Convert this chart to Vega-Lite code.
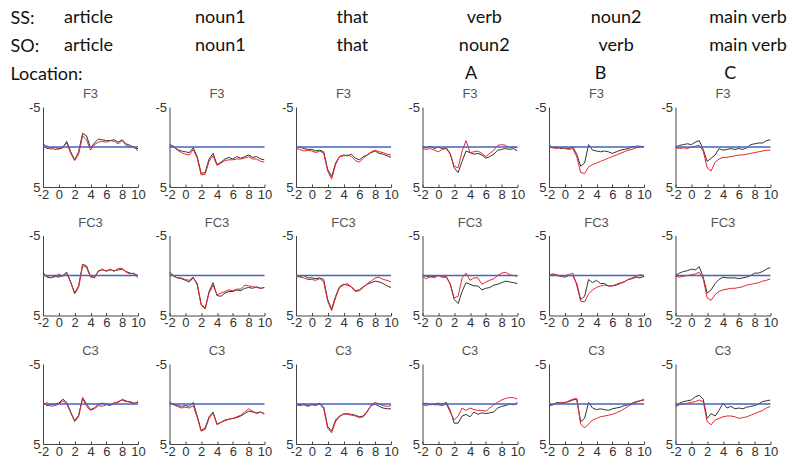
{
"$schema":"https://vega.github.io/schema/vega-lite/v6.json",
"padding":{"left":10,"top":4,"right":0,"bottom":0},
"config":{"view":{"stroke":null},"font":"Liberation Sans"},
"spacing":0,
"vconcat":[
{
"width":740,"height":84,
"data":{"values":[
{"k":"w","r":"SS:","c":1,"w":"article"},{"k":"w","r":"SS:","c":2,"w":"noun1"},{"k":"w","r":"SS:","c":3,"w":"that"},{"k":"w","r":"SS:","c":4,"w":"verb"},{"k":"w","r":"SS:","c":5,"w":"noun2"},{"k":"w","r":"SS:","c":6,"w":"main verb"},
{"k":"w","r":"SO:","c":1,"w":"article"},{"k":"w","r":"SO:","c":2,"w":"noun1"},{"k":"w","r":"SO:","c":3,"w":"that"},{"k":"w","r":"SO:","c":4,"w":"noun2"},{"k":"w","r":"SO:","c":5,"w":"verb"},{"k":"w","r":"SO:","c":6,"w":"main verb"},
{"k":"l","r":"Location:","c":4,"w":"A"},{"k":"l","r":"Location:","c":5,"w":"B"},{"k":"l","r":"Location:","c":6,"w":"C"}
]},
"layer":[
{"transform":[{"filter":"datum.k=='w'"}],
"mark":{"type":"text","font":"Lato","fontSize":18,"color":"#111"},
"encoding":{
"x":{"field":"c","type":"quantitative","scale":{"domain":[0.655,6.265],"zero":false,"nice":false},"axis":null},
"y":{"field":"r","type":"ordinal","scale":{"type":"point","padding":0.5,"domain":["SS:","SO:","Location:"]},"axis":{"title":null,"domain":false,"ticks":false,"labelFont":"Lato","labelFontSize":18,"labelColor":"#111","labelAlign":"left","labelPadding":33,"labelLimit":0}},
"text":{"field":"w"}}},
{"transform":[{"filter":"datum.k=='l'"}],
"mark":{"type":"text","font":"Lato","fontSize":18,"color":"#111"},
"encoding":{
"x":{"field":"c","type":"quantitative","scale":{"domain":[0.694,6.408],"zero":false,"nice":false},"axis":null},
"y":{"field":"r","type":"ordinal"},
"text":{"field":"w"}}}
],
"resolve":{"scale":{"x":"independent"}}
},
{
"data":{"values":[
{"p":1,"t":-2,"k":-0.5,"r":0.1},{"p":1,"t":-1.5,"k":0.2,"r":-0.2},{"p":1,"t":-1,"k":0.1,"r":0.3},{"p":1,"t":-0.5,"k":0.3,"r":0.0},{"p":1,"t":0,"k":0.2,"r":0.3},{"p":1,"t":0.5,"k":0.1,"r":0.0},{"p":1,"t":1,"k":-0.7,"r":-0.5},{"p":1,"t":1.5,"k":0.6,"r":0.8},{"p":1,"t":2,"k":1.6,"r":1.7},{"p":1,"t":2.5,"k":0.6,"r":0.9},{"p":1,"t":3,"k":-1.7,"r":-1.4},{"p":1,"t":3.5,"k":-1.4,"r":-0.9},{"p":1,"t":4,"k":0.1,"r":0.4},{"p":1,"t":4.5,"k":-0.5,"r":-0.3},{"p":1,"t":5,"k":-1.0,"r":-0.6},{"p":1,"t":5.5,"k":-0.9,"r":-0.7},{"p":1,"t":6,"k":-0.8,"r":-0.6},{"p":1,"t":6.5,"k":-0.8,"r":-0.8},{"p":1,"t":7,"k":-0.9,"r":-0.7},{"p":1,"t":7.5,"k":-0.6,"r":-0.4},{"p":1,"t":8,"k":-0.9,"r":-0.8},{"p":1,"t":8.5,"k":-0.4,"r":-0.2},{"p":1,"t":9,"k":-0.2,"r":0.0},{"p":1,"t":9.5,"k":0.1,"r":0.0},{"p":1,"t":10,"k":0.2,"r":0.5},
{"p":2,"t":-2,"k":-0.3,"r":-0.3},{"p":2,"t":-1.5,"k":-0.1,"r":0.0},{"p":2,"t":-1,"k":0.3,"r":0.4},{"p":2,"t":-0.5,"k":0.5,"r":0.7},{"p":2,"t":0,"k":0.6,"r":0.9},{"p":2,"t":0.5,"k":0.7,"r":1.0},{"p":2,"t":1,"k":0.1,"r":0.3},{"p":2,"t":1.5,"k":1.2,"r":1.4},{"p":2,"t":2,"k":3.3,"r":3.5},{"p":2,"t":2.5,"k":3.2,"r":3.4},{"p":2,"t":3,"k":1.5,"r":1.8},{"p":2,"t":3.5,"k":0.8,"r":1.1},{"p":2,"t":4,"k":2.2,"r":2.3},{"p":2,"t":4.5,"k":1.9,"r":2.0},{"p":2,"t":5,"k":1.5,"r":1.7},{"p":2,"t":5.5,"k":1.3,"r":1.6},{"p":2,"t":6,"k":1.5,"r":1.6},{"p":2,"t":6.5,"k":1.2,"r":1.5},{"p":2,"t":7,"k":1.4,"r":1.5},{"p":2,"t":7.5,"k":1.2,"r":1.4},{"p":2,"t":8,"k":1.0,"r":1.2},{"p":2,"t":8.5,"k":1.3,"r":1.5},{"p":2,"t":9,"k":1.2,"r":1.5},{"p":2,"t":9.5,"k":1.5,"r":1.8},{"p":2,"t":10,"k":1.6,"r":1.9},
{"p":3,"t":-2,"k":0.0,"r":0.2},{"p":3,"t":-1.5,"k":0.0,"r":0.3},{"p":3,"t":-1,"k":0.2,"r":0.5},{"p":3,"t":-0.5,"k":0.3,"r":0.4},{"p":3,"t":0,"k":0.3,"r":0.5},{"p":3,"t":0.5,"k":0.5,"r":0.7},{"p":3,"t":1,"k":0.4,"r":0.5},{"p":3,"t":1.5,"k":0.6,"r":0.8},{"p":3,"t":2,"k":2.8,"r":3.0},{"p":3,"t":2.5,"k":3.7,"r":4.0},{"p":3,"t":3,"k":2.0,"r":2.2},{"p":3,"t":3.5,"k":1.2,"r":1.2},{"p":3,"t":4,"k":1.0,"r":1.1},{"p":3,"t":4.5,"k":1.1,"r":1.0},{"p":3,"t":5,"k":0.9,"r":1.2},{"p":3,"t":5.5,"k":1.4,"r":1.7},{"p":3,"t":6,"k":1.6,"r":1.9},{"p":3,"t":6.5,"k":1.2,"r":1.4},{"p":3,"t":7,"k":1.0,"r":1.0},{"p":3,"t":7.5,"k":0.7,"r":0.6},{"p":3,"t":8,"k":0.5,"r":0.4},{"p":3,"t":8.5,"k":0.8,"r":0.6},{"p":3,"t":9,"k":0.9,"r":0.7},{"p":3,"t":9.5,"k":1.1,"r":0.9},{"p":3,"t":10,"k":1.3,"r":1.0},
{"p":4,"t":-2,"k":0.0,"r":0.2},{"p":4,"t":-1.5,"k":0.1,"r":0.3},{"p":4,"t":-1,"k":-0.1,"r":0.2},{"p":4,"t":-0.5,"k":0.2,"r":0.4},{"p":4,"t":0,"k":0.0,"r":0.6},{"p":4,"t":0.5,"k":0.2,"r":0.3},{"p":4,"t":1,"k":0.1,"r":0.2},{"p":4,"t":1.5,"k":0.8,"r":0.9},{"p":4,"t":2,"k":2.6,"r":2.4},{"p":4,"t":2.5,"k":3.2,"r":2.6},{"p":4,"t":3,"k":1.8,"r":0.5},{"p":4,"t":3.5,"k":0.5,"r":-0.8},{"p":4,"t":4,"k":0.7,"r":0.7},{"p":4,"t":4.5,"k":0.9,"r":0.6},{"p":4,"t":5,"k":0.8,"r":0.5},{"p":4,"t":5.5,"k":1.0,"r":0.8},{"p":4,"t":6,"k":1.4,"r":1.2},{"p":4,"t":6.5,"k":1.2,"r":0.8},{"p":4,"t":7,"k":0.9,"r":0.4},{"p":4,"t":7.5,"k":0.4,"r":-0.2},{"p":4,"t":8,"k":0.3,"r":-0.3},{"p":4,"t":8.5,"k":0.2,"r":-0.2},{"p":4,"t":9,"k":0.3,"r":0.1},{"p":4,"t":9.5,"k":0.2,"r":0.0},{"p":4,"t":10,"k":0.5,"r":0.1},
{"p":5,"t":-2,"k":0.0,"r":-0.3},{"p":5,"t":-1.5,"k":0.1,"r":0.1},{"p":5,"t":-1,"k":0.0,"r":0.2},{"p":5,"t":-0.5,"k":0.2,"r":0.0},{"p":5,"t":0,"k":0.1,"r":0.2},{"p":5,"t":0.5,"k":0.2,"r":0.3},{"p":5,"t":1,"k":0.0,"r":0.2},{"p":5,"t":1.5,"k":0.9,"r":1.2},{"p":5,"t":2,"k":2.4,"r":3.2},{"p":5,"t":2.5,"k":2.0,"r":3.3},{"p":5,"t":3,"k":-0.3,"r":2.5},{"p":5,"t":3.5,"k":0.4,"r":2.2},{"p":5,"t":4,"k":0.5,"r":2.0},{"p":5,"t":4.5,"k":0.6,"r":1.8},{"p":5,"t":5,"k":0.5,"r":1.6},{"p":5,"t":5.5,"k":0.6,"r":1.4},{"p":5,"t":6,"k":0.8,"r":1.2},{"p":5,"t":6.5,"k":0.6,"r":1.0},{"p":5,"t":7,"k":0.4,"r":0.8},{"p":5,"t":7.5,"k":0.3,"r":0.6},{"p":5,"t":8,"k":0.2,"r":0.4},{"p":5,"t":8.5,"k":0.0,"r":0.3},{"p":5,"t":9,"k":-0.1,"r":0.1},{"p":5,"t":9.5,"k":-0.1,"r":0.0},{"p":5,"t":10,"k":0.0,"r":-0.1},
{"p":6,"t":-2,"k":0.0,"r":0.1},{"p":6,"t":-1.5,"k":-0.2,"r":0.2},{"p":6,"t":-1,"k":-0.3,"r":0.1},{"p":6,"t":-0.5,"k":-0.4,"r":0.2},{"p":6,"t":0,"k":-0.3,"r":0.0},{"p":6,"t":0.5,"k":-0.6,"r":-0.1},{"p":6,"t":1,"k":-0.8,"r":-0.2},{"p":6,"t":1.5,"k":0.3,"r":0.5},{"p":6,"t":2,"k":1.8,"r":2.6},{"p":6,"t":2.5,"k":1.4,"r":3.0},{"p":6,"t":3,"k":1.0,"r":1.9},{"p":6,"t":3.5,"k":0.2,"r":1.5},{"p":6,"t":4,"k":0.4,"r":1.3},{"p":6,"t":4.5,"k":0.3,"r":1.3},{"p":6,"t":5,"k":0.2,"r":1.2},{"p":6,"t":5.5,"k":0.3,"r":1.1},{"p":6,"t":6,"k":0.2,"r":1.0},{"p":6,"t":6.5,"k":0.3,"r":1.0},{"p":6,"t":7,"k":0.1,"r":0.9},{"p":6,"t":7.5,"k":-0.3,"r":0.8},{"p":6,"t":8,"k":-0.4,"r":0.7},{"p":6,"t":8.5,"k":-0.5,"r":0.6},{"p":6,"t":9,"k":-0.5,"r":0.5},{"p":6,"t":9.5,"k":-0.8,"r":0.4},{"p":6,"t":10,"k":-0.9,"r":0.4},
{"p":7,"t":-2,"k":-0.4,"r":0.0},{"p":7,"t":-1.5,"k":0.2,"r":0.1},{"p":7,"t":-1,"k":0.3,"r":0.0},{"p":7,"t":-0.5,"k":0.1,"r":0.2},{"p":7,"t":0,"k":0.2,"r":-0.2},{"p":7,"t":0.5,"k":0.0,"r":0.1},{"p":7,"t":1,"k":-0.4,"r":-0.3},{"p":7,"t":1.5,"k":0.8,"r":0.9},{"p":7,"t":2,"k":2.2,"r":2.3},{"p":7,"t":2.5,"k":1.3,"r":1.5},{"p":7,"t":3,"k":-1.4,"r":-1.2},{"p":7,"t":3.5,"k":-1.2,"r":-1.0},{"p":7,"t":4,"k":0.1,"r":0.2},{"p":7,"t":4.5,"k":0.3,"r":0.2},{"p":7,"t":5,"k":-0.6,"r":-0.5},{"p":7,"t":5.5,"k":-0.7,"r":-0.8},{"p":7,"t":6,"k":-0.6,"r":-0.5},{"p":7,"t":6.5,"k":-0.7,"r":-0.8},{"p":7,"t":7,"k":-0.6,"r":-0.5},{"p":7,"t":7.5,"k":-0.7,"r":-0.9},{"p":7,"t":8,"k":-0.8,"r":-0.9},{"p":7,"t":8.5,"k":-0.5,"r":-0.4},{"p":7,"t":9,"k":-0.3,"r":-0.2},{"p":7,"t":9.5,"k":-0.2,"r":-0.3},{"p":7,"t":10,"k":0.0,"r":0.3},
{"p":8,"t":-2,"k":-0.4,"r":-0.4},{"p":8,"t":-1.5,"k":0.0,"r":0.1},{"p":8,"t":-1,"k":0.3,"r":0.3},{"p":8,"t":-0.5,"k":0.4,"r":0.3},{"p":8,"t":0,"k":0.6,"r":0.5},{"p":8,"t":0.5,"k":0.8,"r":0.6},{"p":8,"t":1,"k":0.3,"r":0.2},{"p":8,"t":1.5,"k":1.0,"r":1.2},{"p":8,"t":2,"k":3.6,"r":3.7},{"p":8,"t":2.5,"k":4.1,"r":4.2},{"p":8,"t":3,"k":2.0,"r":2.2},{"p":8,"t":3.5,"k":0.9,"r":1.2},{"p":8,"t":4,"k":2.5,"r":2.4},{"p":8,"t":4.5,"k":2.6,"r":2.2},{"p":8,"t":5,"k":2.2,"r":2.0},{"p":8,"t":5.5,"k":2.0,"r":1.8},{"p":8,"t":6,"k":2.0,"r":1.9},{"p":8,"t":6.5,"k":1.8,"r":1.7},{"p":8,"t":7,"k":1.9,"r":1.7},{"p":8,"t":7.5,"k":1.6,"r":1.2},{"p":8,"t":8,"k":1.5,"r":1.3},{"p":8,"t":8.5,"k":1.6,"r":1.4},{"p":8,"t":9,"k":1.4,"r":1.5},{"p":8,"t":9.5,"k":1.6,"r":1.6},{"p":8,"t":10,"k":1.5,"r":1.5},
{"p":9,"t":-2,"k":0.0,"r":0.1},{"p":9,"t":-1.5,"k":0.1,"r":0.2},{"p":9,"t":-1,"k":0.0,"r":0.3},{"p":9,"t":-0.5,"k":0.3,"r":0.5},{"p":9,"t":0,"k":0.3,"r":0.5},{"p":9,"t":0.5,"k":0.4,"r":0.6},{"p":9,"t":1,"k":0.3,"r":0.4},{"p":9,"t":1.5,"k":0.5,"r":0.8},{"p":9,"t":2,"k":3.0,"r":3.2},{"p":9,"t":2.5,"k":4.2,"r":4.4},{"p":9,"t":3,"k":2.6,"r":2.8},{"p":9,"t":3.5,"k":1.4,"r":1.5},{"p":9,"t":4,"k":1.1,"r":1.2},{"p":9,"t":4.5,"k":1.2,"r":1.0},{"p":9,"t":5,"k":1.4,"r":1.5},{"p":9,"t":5.5,"k":1.9,"r":2.0},{"p":9,"t":6,"k":1.8,"r":1.9},{"p":9,"t":6.5,"k":1.4,"r":1.5},{"p":9,"t":7,"k":1.1,"r":1.0},{"p":9,"t":7.5,"k":0.9,"r":0.7},{"p":9,"t":8,"k":0.7,"r":0.3},{"p":9,"t":8.5,"k":0.8,"r":0.2},{"p":9,"t":9,"k":1.0,"r":0.5},{"p":9,"t":9.5,"k":1.3,"r":0.6},{"p":9,"t":10,"k":1.5,"r":0.8},
{"p":10,"t":-2,"k":0.0,"r":0.2},{"p":10,"t":-1.5,"k":0.1,"r":0.4},{"p":10,"t":-1,"k":0.2,"r":0.1},{"p":10,"t":-0.5,"k":0.1,"r":0.3},{"p":10,"t":0,"k":0.0,"r":0.0},{"p":10,"t":0.5,"k":0.2,"r":0.2},{"p":10,"t":1,"k":0.2,"r":0.1},{"p":10,"t":1.5,"k":1.0,"r":1.1},{"p":10,"t":2,"k":3.0,"r":2.8},{"p":10,"t":2.5,"k":3.5,"r":2.6},{"p":10,"t":3,"k":2.0,"r":0.3},{"p":10,"t":3.5,"k":0.9,"r":-0.3},{"p":10,"t":4,"k":1.1,"r":0.6},{"p":10,"t":4.5,"k":1.3,"r":0.3},{"p":10,"t":5,"k":1.3,"r":0.3},{"p":10,"t":5.5,"k":1.8,"r":1.1},{"p":10,"t":6,"k":1.6,"r":0.8},{"p":10,"t":6.5,"k":1.5,"r":0.6},{"p":10,"t":7,"k":1.2,"r":0.4},{"p":10,"t":7.5,"k":1.1,"r":0.0},{"p":10,"t":8,"k":0.9,"r":-0.3},{"p":10,"t":8.5,"k":0.7,"r":-0.4},{"p":10,"t":9,"k":0.8,"r":-0.1},{"p":10,"t":9.5,"k":0.9,"r":0.0},{"p":10,"t":10,"k":1.0,"r":0.1},
{"p":11,"t":-2,"k":0.0,"r":-0.1},{"p":11,"t":-1.5,"k":-0.1,"r":-0.2},{"p":11,"t":-1,"k":0.0,"r":-0.1},{"p":11,"t":-0.5,"k":0.1,"r":0.1},{"p":11,"t":0,"k":0.2,"r":0.0},{"p":11,"t":0.5,"k":0.0,"r":-0.1},{"p":11,"t":1,"k":0.0,"r":-0.3},{"p":11,"t":1.5,"k":1.0,"r":1.2},{"p":11,"t":2,"k":3.0,"r":3.2},{"p":11,"t":2.5,"k":2.6,"r":3.3},{"p":11,"t":3,"k":0.5,"r":2.3},{"p":11,"t":3.5,"k":0.9,"r":1.8},{"p":11,"t":4,"k":0.6,"r":1.5},{"p":11,"t":4.5,"k":1.0,"r":1.3},{"p":11,"t":5,"k":1.0,"r":1.2},{"p":11,"t":5.5,"k":1.3,"r":1.3},{"p":11,"t":6,"k":1.3,"r":1.3},{"p":11,"t":6.5,"k":1.2,"r":1.1},{"p":11,"t":7,"k":1.0,"r":0.9},{"p":11,"t":7.5,"k":0.8,"r":0.8},{"p":11,"t":8,"k":0.5,"r":0.5},{"p":11,"t":8.5,"k":0.4,"r":0.3},{"p":11,"t":9,"k":0.2,"r":0.1},{"p":11,"t":9.5,"k":0.3,"r":-0.1},{"p":11,"t":10,"k":0.1,"r":0.0},
{"p":12,"t":-2,"k":0.0,"r":0.1},{"p":12,"t":-1.5,"k":-0.3,"r":0.2},{"p":12,"t":-1,"k":-0.5,"r":0.1},{"p":12,"t":-0.5,"k":-0.6,"r":0.0},{"p":12,"t":0,"k":-0.8,"r":-0.1},{"p":12,"t":0.5,"k":-0.7,"r":-0.2},{"p":12,"t":1,"k":-1.1,"r":-0.4},{"p":12,"t":1.5,"k":0.2,"r":0.4},{"p":12,"t":2,"k":2.2,"r":2.8},{"p":12,"t":2.5,"k":1.8,"r":3.1},{"p":12,"t":3,"k":1.0,"r":2.4},{"p":12,"t":3.5,"k":0.5,"r":2.0},{"p":12,"t":4,"k":0.2,"r":1.8},{"p":12,"t":4.5,"k":0.3,"r":1.7},{"p":12,"t":5,"k":0.3,"r":1.6},{"p":12,"t":5.5,"k":0.3,"r":1.6},{"p":12,"t":6,"k":0.4,"r":1.5},{"p":12,"t":6.5,"k":0.3,"r":1.4},{"p":12,"t":7,"k":0.2,"r":1.2},{"p":12,"t":7.5,"k":0.0,"r":1.1},{"p":12,"t":8,"k":-0.3,"r":1.0},{"p":12,"t":8.5,"k":-0.3,"r":0.9},{"p":12,"t":9,"k":-0.5,"r":0.7},{"p":12,"t":9.5,"k":-0.8,"r":0.6},{"p":12,"t":10,"k":-1.0,"r":0.4},
{"p":13,"t":-2,"k":-0.2,"r":0.2},{"p":13,"t":-1.5,"k":0.2,"r":-0.2},{"p":13,"t":-1,"k":0.1,"r":0.3},{"p":13,"t":-0.5,"k":0.0,"r":0.2},{"p":13,"t":0,"k":-0.1,"r":0.0},{"p":13,"t":0.5,"k":-0.6,"r":-0.4},{"p":13,"t":1,"k":-0.2,"r":0.0},{"p":13,"t":1.5,"k":1.0,"r":1.1},{"p":13,"t":2,"k":2.1,"r":2.2},{"p":13,"t":2.5,"k":1.4,"r":1.6},{"p":13,"t":3,"k":-0.8,"r":-0.7},{"p":13,"t":3.5,"k":0.0,"r":0.3},{"p":13,"t":4,"k":0.7,"r":0.8},{"p":13,"t":4.5,"k":0.5,"r":0.6},{"p":13,"t":5,"k":0.0,"r":0.2},{"p":13,"t":5.5,"k":-0.1,"r":0.3},{"p":13,"t":6,"k":0.0,"r":0.1},{"p":13,"t":6.5,"k":0.1,"r":0.2},{"p":13,"t":7,"k":0.0,"r":-0.2},{"p":13,"t":7.5,"k":-0.3,"r":-0.2},{"p":13,"t":8,"k":-0.5,"r":-0.6},{"p":13,"t":8.5,"k":-0.3,"r":-0.4},{"p":13,"t":9,"k":-0.3,"r":-0.2},{"p":13,"t":9.5,"k":-0.1,"r":0.0},{"p":13,"t":10,"k":-0.2,"r":-0.3},
{"p":14,"t":-2,"k":-0.2,"r":-0.2},{"p":14,"t":-1.5,"k":0.0,"r":0.1},{"p":14,"t":-1,"k":0.2,"r":0.3},{"p":14,"t":-0.5,"k":0.3,"r":0.5},{"p":14,"t":0,"k":0.2,"r":0.4},{"p":14,"t":0.5,"k":0.3,"r":0.5},{"p":14,"t":1,"k":-0.2,"r":0.2},{"p":14,"t":1.5,"k":1.5,"r":1.7},{"p":14,"t":2,"k":3.3,"r":3.4},{"p":14,"t":2.5,"k":3.0,"r":3.2},{"p":14,"t":3,"k":1.6,"r":1.8},{"p":14,"t":3.5,"k":1.0,"r":1.1},{"p":14,"t":4,"k":2.5,"r":2.6},{"p":14,"t":4.5,"k":2.3,"r":2.3},{"p":14,"t":5,"k":2.0,"r":2.1},{"p":14,"t":5.5,"k":1.9,"r":1.9},{"p":14,"t":6,"k":1.8,"r":1.8},{"p":14,"t":6.5,"k":1.7,"r":1.6},{"p":14,"t":7,"k":1.5,"r":1.4},{"p":14,"t":7.5,"k":1.2,"r":1.0},{"p":14,"t":8,"k":0.9,"r":0.6},{"p":14,"t":8.5,"k":1.0,"r":0.9},{"p":14,"t":9,"k":1.1,"r":1.2},{"p":14,"t":9.5,"k":1.0,"r":1.0},{"p":14,"t":10,"k":1.2,"r":1.3},
{"p":15,"t":-2,"k":0.0,"r":0.1},{"p":15,"t":-1.5,"k":0.1,"r":0.2},{"p":15,"t":-1,"k":0.0,"r":0.1},{"p":15,"t":-0.5,"k":0.2,"r":0.3},{"p":15,"t":0,"k":0.0,"r":0.1},{"p":15,"t":0.5,"k":0.1,"r":0.2},{"p":15,"t":1,"k":-0.1,"r":0.0},{"p":15,"t":1.5,"k":0.4,"r":0.6},{"p":15,"t":2,"k":2.8,"r":3.0},{"p":15,"t":2.5,"k":3.4,"r":3.6},{"p":15,"t":3,"k":2.0,"r":2.2},{"p":15,"t":3.5,"k":1.5,"r":1.6},{"p":15,"t":4,"k":1.3,"r":1.2},{"p":15,"t":4.5,"k":1.2,"r":1.3},{"p":15,"t":5,"k":1.3,"r":1.4},{"p":15,"t":5.5,"k":1.4,"r":1.5},{"p":15,"t":6,"k":1.6,"r":1.7},{"p":15,"t":6.5,"k":1.5,"r":1.6},{"p":15,"t":7,"k":0.9,"r":1.0},{"p":15,"t":7.5,"k":0.2,"r":0.1},{"p":15,"t":8,"k":0.0,"r":-0.2},{"p":15,"t":8.5,"k":0.3,"r":0.0},{"p":15,"t":9,"k":0.5,"r":0.2},{"p":15,"t":9.5,"k":0.6,"r":0.3},{"p":15,"t":10,"k":0.6,"r":0.2},
{"p":16,"t":-2,"k":0.0,"r":0.1},{"p":16,"t":-1.5,"k":-0.1,"r":0.2},{"p":16,"t":-1,"k":0.1,"r":0.0},{"p":16,"t":-0.5,"k":0.0,"r":0.1},{"p":16,"t":0,"k":-0.1,"r":0.1},{"p":16,"t":0.5,"k":0.0,"r":0.2},{"p":16,"t":1,"k":-0.2,"r":0.0},{"p":16,"t":1.5,"k":0.8,"r":1.0},{"p":16,"t":2,"k":2.4,"r":2.0},{"p":16,"t":2.5,"k":2.4,"r":1.5},{"p":16,"t":3,"k":1.5,"r":0.5},{"p":16,"t":3.5,"k":1.3,"r":0.8},{"p":16,"t":4,"k":1.6,"r":0.5},{"p":16,"t":4.5,"k":1.0,"r":0.7},{"p":16,"t":5,"k":1.3,"r":0.8},{"p":16,"t":5.5,"k":1.1,"r":0.8},{"p":16,"t":6,"k":1.2,"r":0.9},{"p":16,"t":6.5,"k":1.1,"r":0.5},{"p":16,"t":7,"k":1.0,"r":0.1},{"p":16,"t":7.5,"k":0.5,"r":-0.2},{"p":16,"t":8,"k":0.3,"r":-0.5},{"p":16,"t":8.5,"k":0.2,"r":-0.7},{"p":16,"t":9,"k":0.0,"r":-0.8},{"p":16,"t":9.5,"k":0.1,"r":-0.8},{"p":16,"t":10,"k":-0.2,"r":-0.6},
{"p":17,"t":-2,"k":0.2,"r":0.0},{"p":17,"t":-1.5,"k":0.1,"r":0.1},{"p":17,"t":-1,"k":-0.2,"r":-0.1},{"p":17,"t":-0.5,"k":-0.1,"r":-0.2},{"p":17,"t":0,"k":-0.2,"r":-0.1},{"p":17,"t":0.5,"k":-0.3,"r":-0.4},{"p":17,"t":1,"k":-0.5,"r":-0.6},{"p":17,"t":1.5,"k":-0.6,"r":-0.7},{"p":17,"t":2,"k":2.2,"r":2.5},{"p":17,"t":2.5,"k":1.8,"r":3.0},{"p":17,"t":3,"k":-0.2,"r":2.5},{"p":17,"t":3.5,"k":0.5,"r":2.0},{"p":17,"t":4,"k":0.7,"r":1.8},{"p":17,"t":4.5,"k":0.6,"r":1.6},{"p":17,"t":5,"k":0.7,"r":1.5},{"p":17,"t":5.5,"k":0.8,"r":1.4},{"p":17,"t":6,"k":0.6,"r":1.3},{"p":17,"t":6.5,"k":0.5,"r":1.1},{"p":17,"t":7,"k":0.4,"r":0.9},{"p":17,"t":7.5,"k":0.2,"r":0.6},{"p":17,"t":8,"k":0.1,"r":0.3},{"p":17,"t":8.5,"k":-0.1,"r":0.0},{"p":17,"t":9,"k":-0.3,"r":-0.2},{"p":17,"t":9.5,"k":-0.4,"r":-0.4},{"p":17,"t":10,"k":-0.5,"r":-0.6},
{"p":18,"t":-2,"k":0.2,"r":0.3},{"p":18,"t":-1.5,"k":-0.1,"r":0.1},{"p":18,"t":-1,"k":-0.3,"r":0.0},{"p":18,"t":-0.5,"k":-0.4,"r":-0.1},{"p":18,"t":0,"k":-0.5,"r":-0.2},{"p":18,"t":0.5,"k":-0.9,"r":-0.3},{"p":18,"t":1,"k":-1.1,"r":-0.5},{"p":18,"t":1.5,"k":-0.6,"r":-0.3},{"p":18,"t":2,"k":1.8,"r":2.2},{"p":18,"t":2.5,"k":1.2,"r":2.6},{"p":18,"t":3,"k":1.5,"r":2.0},{"p":18,"t":3.5,"k":0.8,"r":1.8},{"p":18,"t":4,"k":-0.1,"r":1.6},{"p":18,"t":4.5,"k":0.5,"r":1.5},{"p":18,"t":5,"k":0.3,"r":1.5},{"p":18,"t":5.5,"k":0.6,"r":1.6},{"p":18,"t":6,"k":0.5,"r":1.8},{"p":18,"t":6.5,"k":0.6,"r":1.7},{"p":18,"t":7,"k":0.4,"r":1.6},{"p":18,"t":7.5,"k":0.3,"r":1.4},{"p":18,"t":8,"k":0.2,"r":1.2},{"p":18,"t":8.5,"k":0.0,"r":1.0},{"p":18,"t":9,"k":-0.3,"r":0.8},{"p":18,"t":9.5,"k":-0.4,"r":0.5},{"p":18,"t":10,"k":-0.5,"r":0.3}
]},
"transform":[{"fold":["k","r"],"as":["s","v"]}],
"facet":{"field":"p","type":"ordinal","header":{"title":null,"labelExpr":"datum.value<=6?'F3':datum.value<=12?'FC3':'C3'","labelFont":"Liberation Sans","labelFontSize":13,"labelColor":"#555","labelPadding":0}},
"columns":6,
"spacing":{"row":15.5,"column":8.5},
"spec":{
"width":95,"height":80,
"layer":[
{"mark":{"type":"line","strokeWidth":1,"clip":true},
"encoding":{
"x":{"field":"t","type":"quantitative","scale":{"domain":[-2,10],"nice":false,"zero":false},"axis":{"values":[-2,0,2,4,6,8,10],"labelExpr":"toString(datum.value)","title":null,"grid":false,"labelFont":"Liberation Sans","labelFontSize":13,"labelColor":"#333","labelFlush":false,"labelPadding":4,"tickSize":-3,"tickColor":"#444","domainColor":"#444"}},
"y":{"field":"v","type":"quantitative","scale":{"domain":[-5,5],"reverse":true,"nice":false,"zero":false},"axis":{"values":[-5,0,5],"labelExpr":"toString(datum.value)","title":null,"grid":false,"labelFont":"Liberation Sans","labelFontSize":13,"labelColor":"#333","ticks":false,"labelPadding":3,"domainColor":"#444"}},
"color":{"field":"s","type":"nominal","scale":{"domain":["k","r"],"range":["#333333","#e8262b"]},"legend":null}}},
{"transform":[{"filter":"datum.t==-2 && datum.s=='k'"}],
"mark":{"type":"rule","color":"#4563c4","strokeWidth":1.5},
"encoding":{"y":{"datum":0,"type":"quantitative"}}}
]},
"resolve":{"axis":{"x":"independent","y":"independent"}}
}
]
}
